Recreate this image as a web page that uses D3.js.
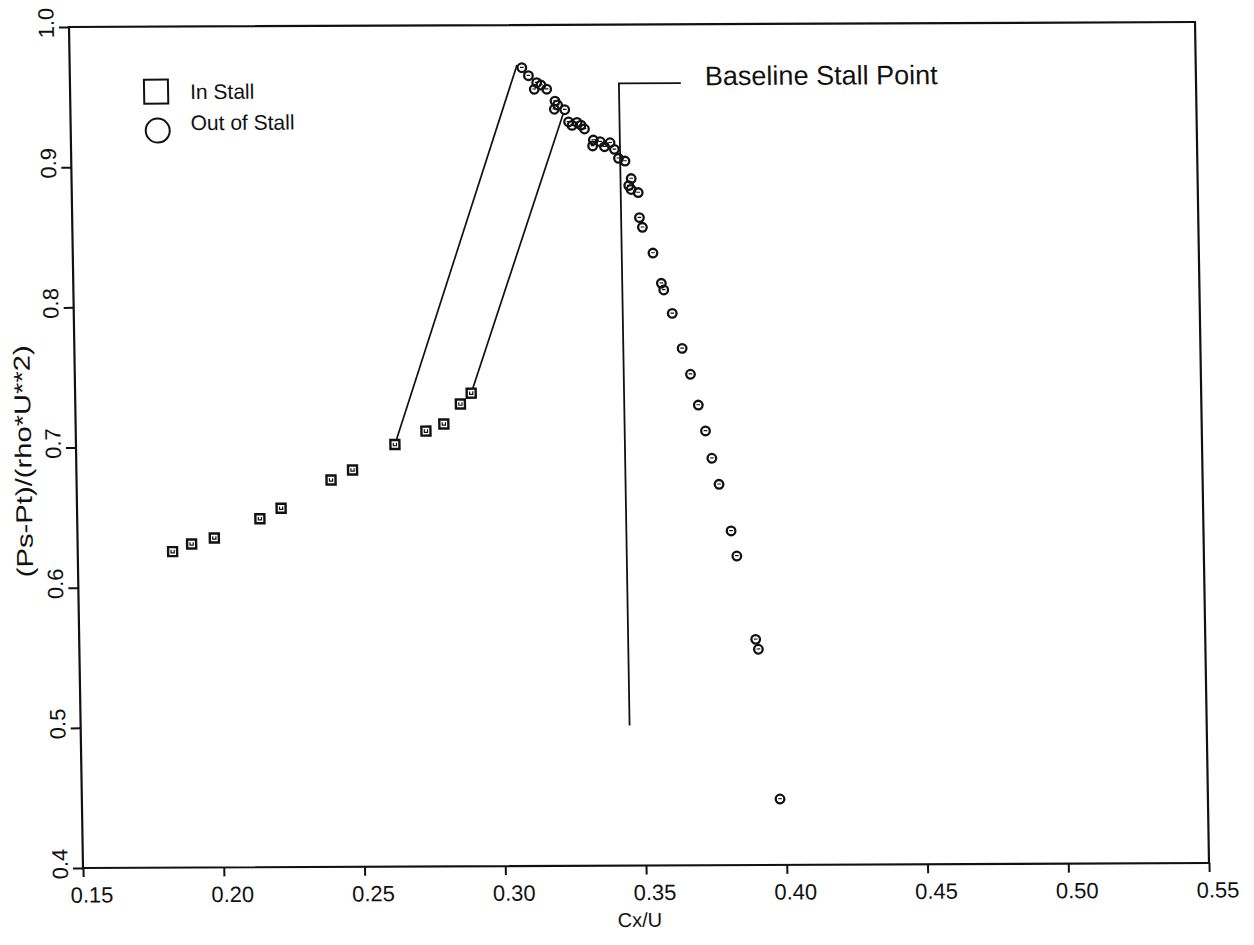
<!DOCTYPE html>
<html>
<head>
<meta charset="utf-8">
<script src="https://cdn.jsdelivr.net/npm/d3@7/dist/d3.min.js"></script>
<style>
body { margin: 0; background: #fff; }
text { font-family: "Liberation Sans", Arial, sans-serif; fill: #111; }
</style>
</head>
<body>
<svg id="chart" width="1254" height="945"></svg>
<script>
// in stall (squares)
var inStallX = [0.1837, 0.1905, 0.1986, 0.2149, 0.2225, 0.2404, 0.2481, 0.2633, 0.2744, 0.2808, 0.2868, 0.2907];
var inStallY = [0.6254, 0.6308, 0.6350, 0.6486, 0.6560, 0.6760, 0.6831, 0.7011, 0.7106, 0.7156, 0.7298, 0.7375];

// out of stall (circles)
var outStallX = [0.3106, 0.3129, 0.3158, 0.3173, 0.3149, 0.3193, 0.3222, 0.3231, 0.3219, 0.3256,
                 0.3269, 0.3281, 0.3299, 0.3313, 0.3325, 0.3356, 0.3353, 0.3380, 0.3395, 0.3415,
                 0.3430, 0.3444, 0.3467, 0.3488, 0.3479, 0.3487, 0.3512, 0.3515, 0.3525, 0.3561,
                 0.3589, 0.3597, 0.3626, 0.3659, 0.3687, 0.3713, 0.3737, 0.3758, 0.3782, 0.3822,
                 0.3841, 0.3903, 0.3912, 0.3980];
var outStallY = [0.9695, 0.9638, 0.9588, 0.9571, 0.9541, 0.9541, 0.9456, 0.9428, 0.9398, 0.9394,
                 0.9307, 0.9282, 0.9303, 0.9284, 0.9256, 0.9177, 0.9135, 0.9165, 0.9129, 0.9157,
                 0.9110, 0.9046, 0.9026, 0.8901, 0.8851, 0.8823, 0.8801, 0.8622, 0.8553, 0.8369,
                 0.8153, 0.8105, 0.7938, 0.7688, 0.7503, 0.7283, 0.7098, 0.6903, 0.6717, 0.6384,
                 0.6205, 0.5610, 0.5539, 0.4470];

// jumps from stall back to unstalled operation: [x1, y1, x2, y2]
var jumpLines = [[0.2633, 0.7011, 0.3089, 0.9715], [0.2907, 0.7375, 0.3251, 0.9369]];

var stallX = 0.345, stallTop = 0.958, stallBottom = 0.50, stallLeaderEnd = 0.367, stallLabelX = 0.3756;

var xTicks = [0.15, 0.20, 0.25, 0.30, 0.35, 0.40, 0.45, 0.50, 0.55];
var yTicks = [0.4, 0.5, 0.6, 0.7, 0.8, 0.9, 1.0];

var width = 1126, height = 841;
var ink = '#111';
var fontStack = '"Liberation Sans", Arial, sans-serif';

var svg = d3.select('#chart');
// the scanned figure is slightly sheared, so the plot group is too
var g = svg.append('g').attr('transform', 'matrix(1,-0.00444,0.01665,1,69,27)');

var x = d3.scaleLinear().domain([0.15, 0.55]).range([0, width]);
var y = d3.scaleLinear().domain([0.4, 1.0]).range([height, 0]);

var xAxis = g.append('g')
    .attr('transform', 'translate(0,' + height + ')')
    .call(d3.axisBottom(x).tickValues(xTicks).tickFormat(d3.format('.2f')).tickSize(9).tickPadding(10));
xAxis.select('.domain').remove();
xAxis.selectAll('line').attr('stroke', ink).attr('stroke-width', 2);
xAxis.selectAll('text').attr('dx', 8).attr('font-size', 22).attr('fill', ink).attr('font-family', fontStack);

var yAxis = g.append('g')
    .call(d3.axisLeft(y).tickValues(yTicks).tickFormat(d3.format('.1f')).tickSize(10));
yAxis.select('.domain').remove();
yAxis.selectAll('line').attr('stroke', ink).attr('stroke-width', 2);
yAxis.selectAll('text')
    .attr('transform', 'rotate(-90)')
    .attr('x', 4.5).attr('y', -23).attr('dy', '0.35em')
    .attr('text-anchor', 'middle')
    .attr('font-size', 22).attr('fill', ink)
    .attr('font-family', fontStack);

g.append('rect')
    .attr('width', width).attr('height', height)
    .attr('fill', 'none').attr('stroke', ink).attr('stroke-width', 2.2);

// axis titles
g.append('text')
    .attr('x', 556).attr('y', height + 56)
    .attr('text-anchor', 'middle').attr('dominant-baseline', 'middle')
    .attr('font-size', 20)
    .text('Cx/U');
g.append('text')
    .attr('transform', 'translate(-51,434) rotate(-90)')
    .attr('text-anchor', 'middle').attr('dominant-baseline', 'middle')
    .attr('font-size', 23)
    .attr('textLength', 232).attr('lengthAdjust', 'spacingAndGlyphs')
    .text('(Ps-Pt)/(rho*U**2)');

// transition lines
g.selectAll('.jump').data(jumpLines).enter().append('line')
    .attr('class', 'jump')
    .attr('x1', function(d) { return x(d[0]); })
    .attr('y1', function(d) { return y(d[1]); })
    .attr('x2', function(d) { return x(d[2]); })
    .attr('y2', function(d) { return y(d[3]); })
    .attr('stroke', ink).attr('stroke-width', 1.7);

// baseline stall point marker
g.append('path')
    .attr('d', 'M' + x(stallX) + ',' + y(stallBottom) + 'L' + x(stallX) + ',' + y(stallTop) + 'L' + x(stallLeaderEnd) + ',' + y(stallTop))
    .attr('fill', 'none').attr('stroke', ink).attr('stroke-width', 1.8);
g.append('text')
    .attr('x', x(stallLabelX)).attr('y', y(stallTop) - 5)
    .attr('dominant-baseline', 'middle')
    .attr('font-size', 27)
    .text('Baseline Stall Point');

// points
var sq = 9;
var squares = g.selectAll('.inStall').data(inStallX).enter().append('g')
    .attr('class', 'inStall')
    .attr('transform', function(d, i) { return 'translate(' + x(d) + ',' + y(inStallY[i]) + ')'; });
squares.append('rect')
    .attr('x', -sq / 2).attr('y', -sq / 2)
    .attr('width', sq).attr('height', sq)
    .attr('fill', '#fff').attr('stroke', ink).attr('stroke-width', 2.4);
squares.append('path')
    .attr('d', 'M-1.6,-1.8V1.2H1.6V-1.8')
    .attr('fill', 'none').attr('stroke', ink).attr('stroke-width', 1.2);

var circles = g.selectAll('.outStall').data(outStallX).enter().append('g')
    .attr('class', 'outStall')
    .attr('transform', function(d, i) { return 'translate(' + x(d) + ',' + y(outStallY[i]) + ')'; });
circles.append('circle')
    .attr('r', 4.3)
    .attr('fill', 'none').attr('stroke', ink).attr('stroke-width', 2.3);
circles.append('path')
    .attr('d', 'M-1.8,-0.3H1.8')
    .attr('fill', 'none').attr('stroke', ink).attr('stroke-width', 1.2);

// legend
var legend = g.append('g').attr('transform', 'translate(74,53)');
legend.append('rect')
    .attr('width', 24).attr('height', 24)
    .attr('fill', 'none').attr('stroke', ink).attr('stroke-width', 2);
legend.append('circle')
    .attr('cx', 13).attr('cy', 51).attr('r', 12)
    .attr('fill', 'none').attr('stroke', ink).attr('stroke-width', 2);
legend.append('text')
    .attr('x', 46).attr('y', 14).attr('dominant-baseline', 'middle')
    .attr('font-size', 21).text('In Stall');
legend.append('text')
    .attr('x', 46).attr('y', 45).attr('dominant-baseline', 'middle')
    .attr('font-size', 21).text('Out of Stall');
</script>
</body>
</html>
